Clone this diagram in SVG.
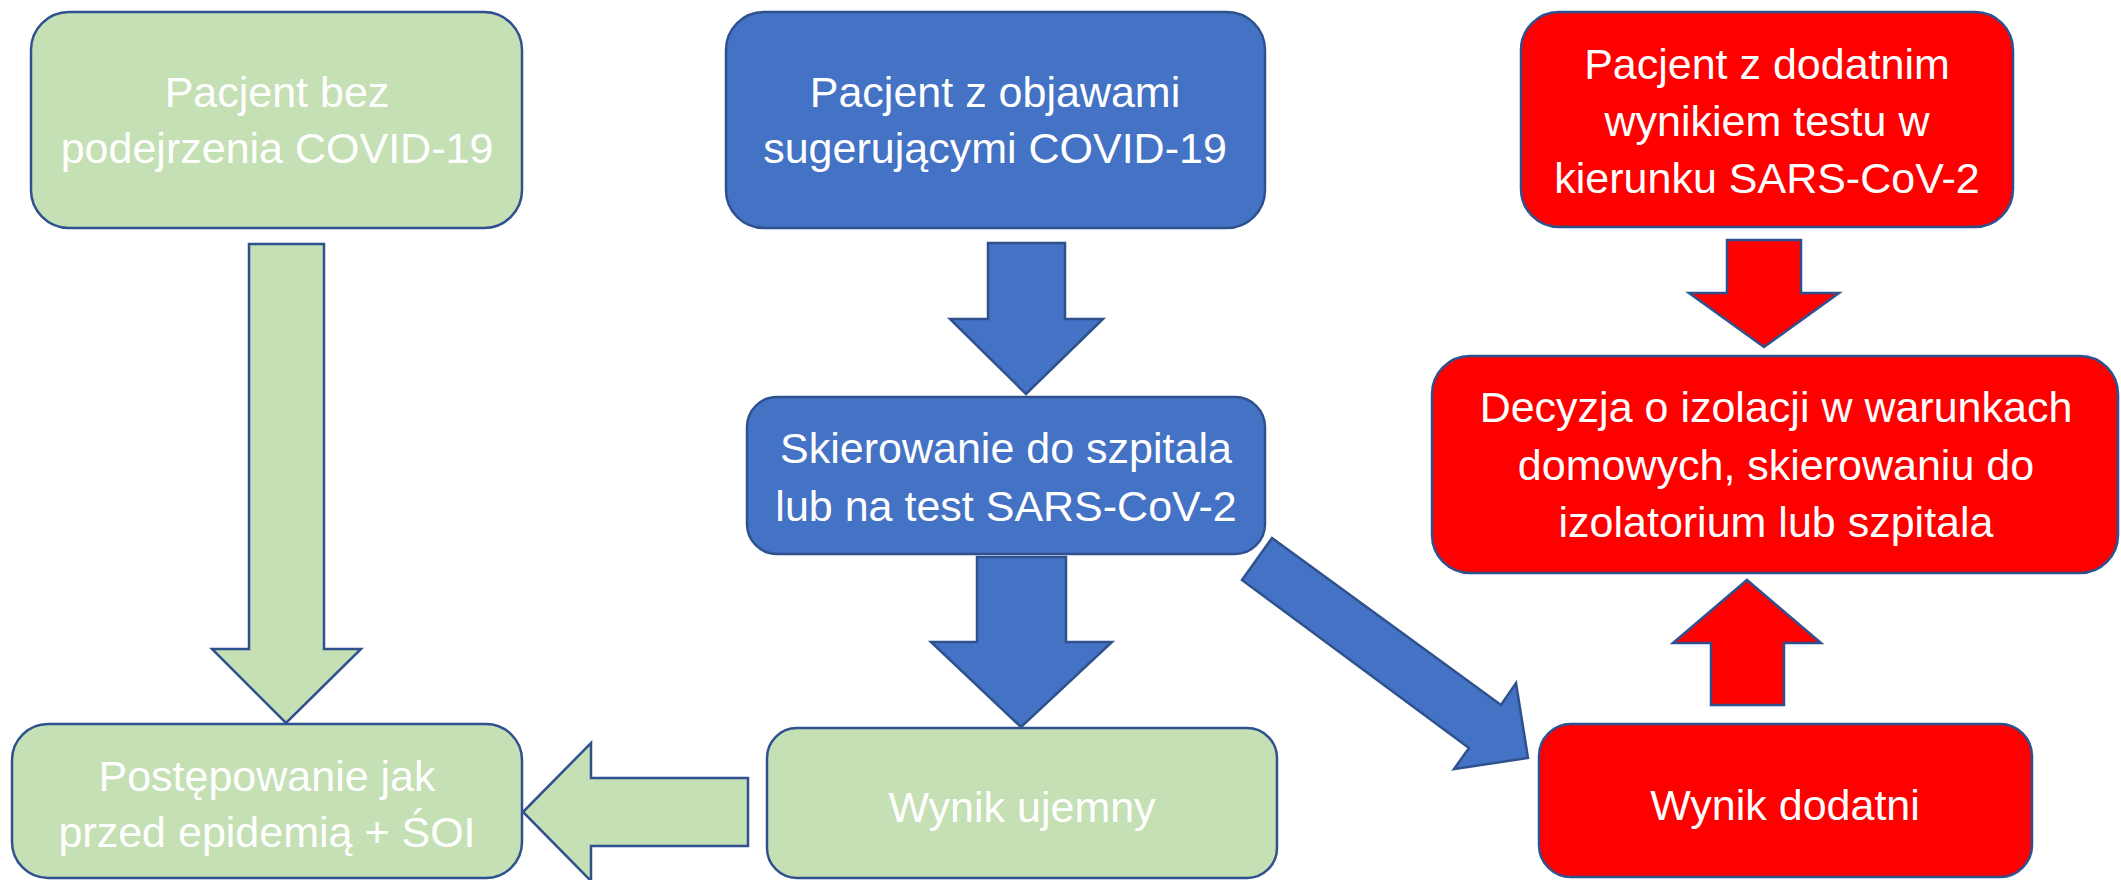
<svg xmlns="http://www.w3.org/2000/svg" width="2121" height="880" viewBox="0 0 2121 880">
  <style>
    .box { stroke: #2F528F; stroke-width: 2.5; }
    .green { fill: #C5E0B4; }
    .blue { fill: #4472C4; }
    .red { fill: #FF0000; }
    .arrow { stroke: #2F528F; stroke-width: 2.5; stroke-linejoin: miter; }
    text { font-family: "Liberation Sans", Arial, sans-serif; font-size: 43px; fill: #FFFFFF; text-anchor: middle; }
  </style>
  <rect x="0" y="0" width="2121" height="880" fill="#FFFFFF"/>

  <g id="connectors">
    <polygon class="arrow green" points="249,244 324,244 324,649 361,649 286,723 212,649 249,649"/>
    <polygon class="arrow green" points="523,812 591,743 591,778 748,778 748,846 591,846 591,881"/>
    <polygon class="arrow blue" points="988,243 1065,243 1065,319 1103,319 1026,394 950,319 988,319"/>
    <polygon class="arrow blue" points="977,557 1066,557 1066,642 1112,642 1021,727 931,642 977,642"/>
    <polygon class="arrow blue" points="1272,538 1501,705 1516,683 1528,758 1454,769 1469,748 1242,580"/>
    <polygon class="arrow red" points="1727,240 1801,240 1801,293 1839,293 1764,347 1689,293 1727,293"/>
    <polygon class="arrow red" points="1747,580 1821,643 1784,643 1784,705 1711,705 1711,643 1673,643"/>
  </g>

  <g id="node-bez-podejrzenia">
    <rect class="box green" x="31" y="12" width="491" height="216" rx="38" ry="38"/>
    <text x="277" y="107">Pacjent bez</text>
    <text x="277" y="163">podejrzenia COVID-19</text>
  </g>

  <g id="node-z-objawami">
    <rect class="box blue" x="726" y="12" width="539" height="216" rx="38" ry="38"/>
    <text x="995" y="107">Pacjent z objawami</text>
    <text x="995" y="163">sugerującymi COVID-19</text>
  </g>

  <g id="node-dodatni-test">
    <rect class="box red" x="1521" y="12" width="492" height="215" rx="38" ry="38"/>
    <text x="1767" y="79">Pacjent z dodatnim</text>
    <text x="1767" y="136">wynikiem testu w</text>
    <text x="1767" y="193">kierunku SARS-CoV-2</text>
  </g>

  <g id="node-skierowanie">
    <rect class="box blue" x="747" y="397" width="518" height="157" rx="30" ry="30"/>
    <text x="1006" y="463">Skierowanie do szpitala</text>
    <text x="1006" y="521">lub na test SARS-CoV-2</text>
  </g>

  <g id="node-decyzja">
    <rect class="box red" x="1432" y="356" width="686" height="217" rx="38" ry="38"/>
    <text x="1776" y="422">Decyzja o izolacji w warunkach</text>
    <text x="1776" y="480">domowych, skierowaniu do</text>
    <text x="1776" y="537">izolatorium lub szpitala</text>
  </g>

  <g id="node-postepowanie">
    <rect class="box green" x="12" y="724" width="510" height="154" rx="36" ry="36"/>
    <text x="267" y="791">Postępowanie jak</text>
    <text x="267" y="847">przed epidemią + ŚOI</text>
  </g>

  <g id="node-wynik-ujemny">
    <rect class="box green" x="767" y="728" width="510" height="150" rx="30" ry="30"/>
    <text x="1022" y="822">Wynik ujemny</text>
  </g>

  <g id="node-wynik-dodatni">
    <rect class="box red" x="1539" y="724" width="493" height="153" rx="32" ry="32"/>
    <text x="1785" y="820">Wynik dodatni</text>
  </g>
</svg>
